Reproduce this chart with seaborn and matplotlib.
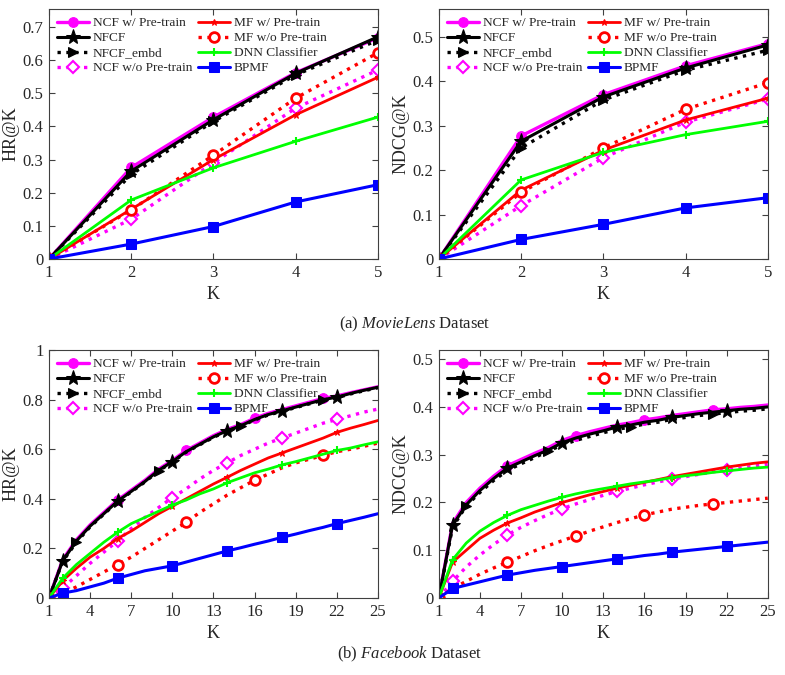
import numpy as np
import pandas as pd
import matplotlib
matplotlib.use("Agg")
import matplotlib.pyplot as plt
from matplotlib.ticker import FuncFormatter
import seaborn as sns

# series names (legend order)
names = ["NCF w/ Pre-train", "NFCF", "NFCF_embd", "NCF w/o Pre-train",
         "MF w/ Pre-train", "MF w/o Pre-train", "DNN Classifier", "BPMF"]

# MovieLens, K = 1..5
k_ml = [1, 2, 3, 4, 5]
hr_ml = {
    "NCF w/ Pre-train": [0, 0.276, 0.428, 0.562, 0.667],
    "NFCF": [0, 0.265, 0.420, 0.560, 0.670],
    "NFCF_embd": [0, 0.255, 0.415, 0.555, 0.660],
    "NCF w/o Pre-train": [0, 0.120, 0.290, 0.455, 0.570],
    "MF w/ Pre-train": [0, 0.150, 0.300, 0.435, 0.548],
    "MF w/o Pre-train": [0, 0.148, 0.313, 0.485, 0.622],
    "DNN Classifier": [0, 0.178, 0.275, 0.355, 0.428],
    "BPMF": [0, 0.045, 0.098, 0.172, 0.224],
}
ndcg_ml = {
    "NCF w/ Pre-train": [0, 0.277, 0.370, 0.435, 0.485],
    "NFCF": [0, 0.265, 0.365, 0.430, 0.482],
    "NFCF_embd": [0, 0.250, 0.358, 0.425, 0.470],
    "NCF w/o Pre-train": [0, 0.120, 0.228, 0.308, 0.360],
    "MF w/ Pre-train": [0, 0.155, 0.245, 0.313, 0.362],
    "MF w/o Pre-train": [0, 0.150, 0.250, 0.337, 0.397],
    "DNN Classifier": [0, 0.178, 0.240, 0.280, 0.310],
    "BPMF": [0, 0.044, 0.078, 0.115, 0.138],
}

# Facebook, K = 1..25
k_fb = list(range(1, 26))
hr_fb = {
    "NCF w/ Pre-train": [0, 0.155, 0.235, 0.295, 0.345, 0.395, 0.435, 0.475, 0.52, 0.555, 0.595, 0.625,
                         0.655, 0.68, 0.70, 0.725, 0.745, 0.76, 0.775, 0.79, 0.805, 0.815, 0.828, 0.84, 0.852],
    "NFCF": [0, 0.15, 0.23, 0.29, 0.34, 0.39, 0.43, 0.47, 0.515, 0.55, 0.59, 0.62,
             0.65, 0.675, 0.695, 0.72, 0.74, 0.755, 0.77, 0.785, 0.80, 0.81, 0.825, 0.838, 0.85],
    "NFCF_embd": [0, 0.148, 0.225, 0.287, 0.338, 0.388, 0.428, 0.468, 0.513, 0.548, 0.588, 0.618,
                  0.648, 0.673, 0.693, 0.718, 0.738, 0.753, 0.768, 0.783, 0.798, 0.808, 0.823, 0.836, 0.848],
    "NCF w/o Pre-train": [0, 0.04, 0.09, 0.14, 0.185, 0.23, 0.28, 0.325, 0.365, 0.405, 0.44, 0.48,
                          0.515, 0.545, 0.575, 0.60, 0.625, 0.645, 0.665, 0.685, 0.705, 0.72, 0.735, 0.75, 0.762],
    "MF w/ Pre-train": [0, 0.07, 0.12, 0.165, 0.20, 0.24, 0.27, 0.305, 0.34, 0.37, 0.40, 0.43,
                        0.46, 0.487, 0.515, 0.54, 0.565, 0.585, 0.605, 0.625, 0.645, 0.668, 0.685, 0.70, 0.716],
    "MF w/o Pre-train": [0, 0.02, 0.045, 0.075, 0.105, 0.135, 0.165, 0.20, 0.235, 0.27, 0.305, 0.345,
                         0.38, 0.415, 0.445, 0.475, 0.50, 0.525, 0.545, 0.56, 0.575, 0.59, 0.60, 0.612, 0.625],
    "DNN Classifier": [0, 0.08, 0.135, 0.18, 0.225, 0.265, 0.30, 0.325, 0.35, 0.375, 0.395, 0.42,
                       0.44, 0.465, 0.485, 0.505, 0.52, 0.537, 0.55, 0.565, 0.58, 0.595, 0.605, 0.618, 0.63],
    "BPMF": [0, 0.02, 0.03, 0.045, 0.06, 0.08, 0.095, 0.11, 0.12, 0.13, 0.145, 0.16,
             0.175, 0.19, 0.203, 0.217, 0.23, 0.245, 0.258, 0.272, 0.285, 0.30, 0.313, 0.326, 0.34],
}
ndcg_fb = {
    "NCF w/ Pre-train": [0, 0.156, 0.2, 0.23, 0.255, 0.277, 0.29, 0.303, 0.315, 0.33, 0.34, 0.348,
                         0.355, 0.362, 0.367, 0.373, 0.377, 0.382, 0.386, 0.39, 0.394, 0.396, 0.399, 0.401, 0.404],
    "NFCF": [0, 0.152, 0.195, 0.225, 0.25, 0.272, 0.285, 0.298, 0.31, 0.325, 0.335, 0.343,
             0.35, 0.358, 0.362, 0.368, 0.372, 0.378, 0.382, 0.386, 0.389, 0.392, 0.395, 0.397, 0.40],
    "NFCF_embd": [0, 0.148, 0.193, 0.221, 0.246, 0.267, 0.281, 0.294, 0.308, 0.32, 0.33, 0.338,
                  0.346, 0.353, 0.358, 0.364, 0.368, 0.374, 0.378, 0.382, 0.385, 0.388, 0.391, 0.393, 0.396],
    "NCF w/o Pre-train": [0, 0.035, 0.065, 0.09, 0.112, 0.132, 0.148, 0.162, 0.175, 0.187, 0.197, 0.206,
                          0.215, 0.223, 0.23, 0.237, 0.243, 0.249, 0.254, 0.259, 0.264, 0.268, 0.272, 0.276, 0.28],
    "MF w/ Pre-train": [0, 0.075, 0.10, 0.125, 0.142, 0.157, 0.168, 0.18, 0.19, 0.20, 0.208, 0.216,
                        0.223, 0.23, 0.236, 0.242, 0.248, 0.254, 0.259, 0.264, 0.269, 0.274, 0.278, 0.282, 0.285],
    "MF w/o Pre-train": [0, 0.02, 0.035, 0.05, 0.063, 0.075, 0.087, 0.099, 0.11, 0.12, 0.13, 0.14,
                         0.149, 0.158, 0.166, 0.174, 0.18, 0.186, 0.19, 0.194, 0.197, 0.20, 0.203, 0.206, 0.209],
    "DNN Classifier": [0, 0.08, 0.115, 0.14, 0.158, 0.173, 0.185, 0.194, 0.203, 0.211, 0.218, 0.224,
                       0.229, 0.234, 0.239, 0.243, 0.247, 0.252, 0.256, 0.259, 0.263, 0.266, 0.269, 0.272, 0.274],
    "BPMF": [0, 0.02, 0.027, 0.034, 0.041, 0.048, 0.053, 0.058, 0.062, 0.066, 0.07, 0.074,
             0.078, 0.082, 0.085, 0.089, 0.092, 0.096, 0.099, 0.102, 0.105, 0.108, 0.111, 0.114, 0.117],
}

# line styles for each series
styles = {
    "NCF w/ Pre-train": dict(color="#FF00FF", ls="-", marker="o", ms=7, mfc="#FF00FF", lw=2.4),
    "NFCF": dict(color="black", ls="-", marker="*", ms=11, mfc="black", lw=2.2),
    "NFCF_embd": dict(color="black", ls=":", marker=">", ms=7, mfc="black", lw=2.4),
    "NCF w/o Pre-train": dict(color="#FF00FF", ls=":", marker="D", ms=6, mfc="white", lw=2.4, mew=1.5),
    "MF w/ Pre-train": dict(color="#FF0000", ls="-", marker="*", ms=5, mfc="#FF0000", lw=2.0),
    "MF w/o Pre-train": dict(color="#FF0000", ls=":", marker="o", ms=7, mfc="white", lw=2.4, mew=2),
    "DNN Classifier": dict(color="#00FF00", ls="-", marker="+", ms=6, mfc="#00FF00", lw=2.0, mew=1.5),
    "BPMF": dict(color="#0000FF", ls="-", marker="s", ms=7, mfc="#0000FF", lw=2.2),
}
# which points get a marker on the Facebook panels
mark_fb = {
    "NCF w/ Pre-train": slice(0, None, 5),
    "NFCF": slice(1, None, 4),
    "NFCF_embd": slice(2, None, 6),
    "NCF w/o Pre-train": slice(1, None, 4),
    "MF w/ Pre-train": slice(1, None, 4),
    "MF w/o Pre-train": slice(0, None, 5),
    "DNN Classifier": slice(1, None, 4),
    "BPMF": slice(1, None, 4),
}

sns.set_style("ticks")
plt.rcParams["font.family"] = ["Liberation Serif", "DejaVu Serif"]
plt.rcParams["mathtext.fontset"] = "custom"
plt.rcParams["mathtext.it"] = "Liberation Serif:italic"
plt.rcParams["mathtext.rm"] = "Liberation Serif"


def draw(ax, ks, data, ylab, ylim, yticks, xticks, markevery=None):
    for n in names:
        df = pd.DataFrame({"K": ks, "v": data[n]})
        st = dict(styles[n])
        st["markevery"] = markevery[n] if markevery else None
        sns.lineplot(data=df, x="K", y="v", ax=ax, label=n, markeredgecolor=st["color"],
                     **st)
    ax.set_xlim(ks[0], ks[-1])
    ax.set_ylim(*ylim)
    ax.set_xticks(xticks)
    ax.set_yticks(yticks)
    ax.yaxis.set_major_formatter(FuncFormatter(lambda v, p: "%g" % round(v, 2)))
    ax.set_xlabel("K", fontsize=13, labelpad=4)
    ax.set_ylabel(ylab, fontsize=13, labelpad=2)
    ax.tick_params(direction="in", top=True, right=True, labelsize=12, color="#404040",
                   length=4, pad=4)
    for lab in ax.get_xticklabels() + ax.get_yticklabels():
        lab.set_fontfamily("Liberation Serif")
    for s in ax.spines.values():
        s.set_color("#404040")
        s.set_linewidth(0.8)
    ax.legend(ncol=2, loc="upper left", fontsize=9.6, frameon=False, handlelength=2.4,
              borderaxespad=0.2, columnspacing=0.4, handletextpad=0.3, labelspacing=0.2)


fig = plt.figure(figsize=(7.85, 6.75), dpi=100)
ax1 = fig.add_axes([0.0624, 0.6163, 0.419, 0.3704])
ax2 = fig.add_axes([0.559, 0.6163, 0.419, 0.3704])
ax3 = fig.add_axes([0.0624, 0.114, 0.419, 0.3674])
ax4 = fig.add_axes([0.559, 0.114, 0.419, 0.3674])

draw(ax1, k_ml, hr_ml, "HR@K", (0, 0.754), np.arange(0, 0.71, 0.1), k_ml)
draw(ax2, k_ml, ndcg_ml, "NDCG@K", (0, 0.563), np.arange(0, 0.51, 0.1), k_ml)
draw(ax3, k_fb, hr_fb, "HR@K", (0, 1.0), np.arange(0, 1.01, 0.2), list(range(1, 26, 3)), mark_fb)
draw(ax4, k_fb, ndcg_fb, "NDCG@K", (0, 0.519), np.arange(0, 0.51, 0.1), list(range(1, 26, 3)), mark_fb)

fig.text(0.528, 0.52, r"(a) $\mathit{MovieLens}$ Dataset", ha="center", va="center", fontsize=12)
fig.text(0.522, 0.03, r"(b) $\mathit{Facebook}$ Dataset", ha="center", va="center", fontsize=12)

fig.savefig("out.png", dpi=100)
